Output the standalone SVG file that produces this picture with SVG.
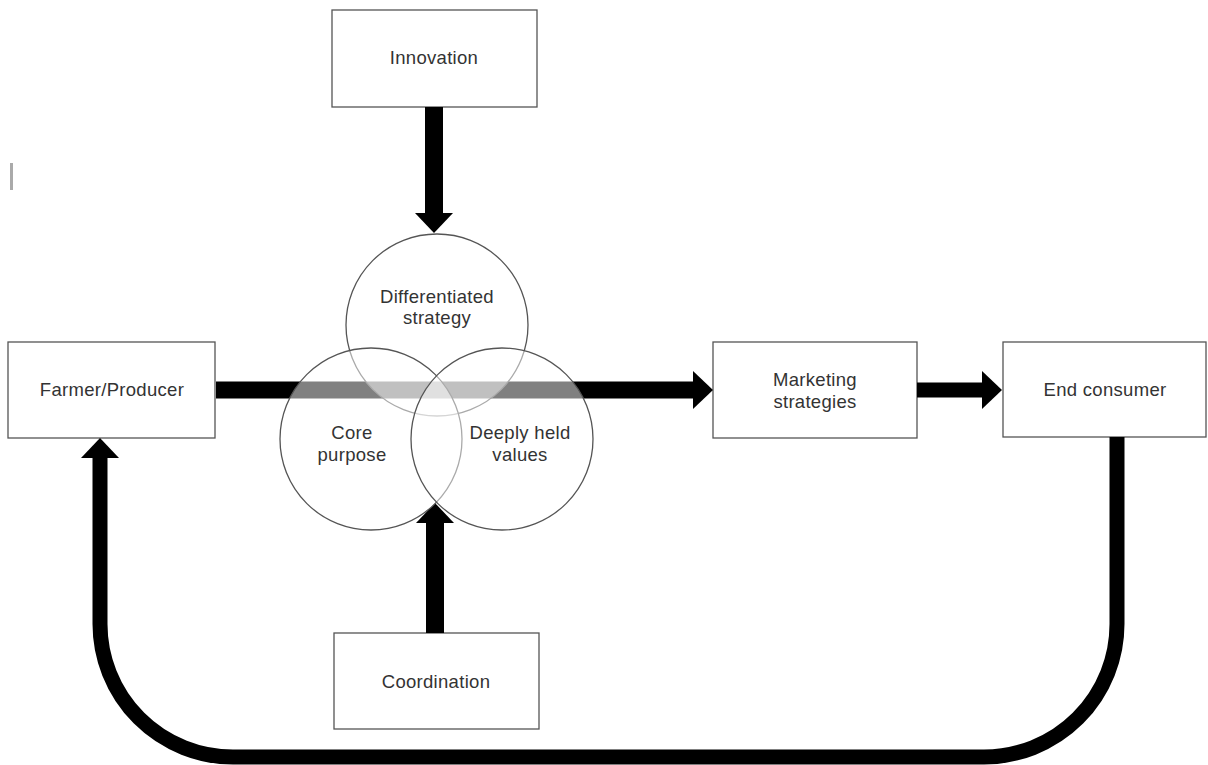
<svg xmlns="http://www.w3.org/2000/svg" width="1208" height="765" viewBox="0 0 1208 765">
<style>
.box{fill:#fff;stroke:#555;stroke-width:1.3}
.circ{fill:#fff;fill-opacity:0.5;stroke:#555;stroke-width:1.3}
.lbl{font-family:"Liberation Sans",Arial,sans-serif;font-size:18.5px;fill:#333;text-anchor:middle;letter-spacing:0.3px}
.arr{fill:none;stroke:#000;stroke-linecap:butt}
</style>
<defs>
<marker id="ah" viewBox="0 0 20 38" refX="0" refY="19" markerWidth="20" markerHeight="38" markerUnits="userSpaceOnUse" orient="auto">
<path d="M0,0 L20,19 L0,38 Z" fill="#000"/>
</marker>
</defs>
<rect x="0" y="0" width="1208" height="765" fill="#fff"/>
<rect x="10" y="163" width="3" height="27" fill="#aaa"/>
<g id="innovation"><rect class="box" x="332" y="10" width="205" height="97"/><text class="lbl" x="434" y="64">Innovation</text></g>
<g id="farmer"><rect class="box" x="8" y="342" width="207" height="96"/><text class="lbl" x="112" y="396">Farmer/Producer</text></g>
<g id="marketing"><rect class="box" x="713" y="342" width="204" height="96"/><text class="lbl" x="815" y="386">Marketing</text><text class="lbl" x="815" y="408">strategies</text></g>
<g id="consumer"><rect class="box" x="1003" y="342" width="203" height="95"/><text class="lbl" x="1105" y="396">End consumer</text></g>
<g id="coordination"><rect class="box" x="334" y="633" width="205" height="96"/><text class="lbl" x="436" y="688">Coordination</text></g>
<g id="connectors">
<line class="arr" x1="216" y1="390" x2="693" y2="390" stroke-width="17" marker-end="url(#ah)"/>
<line class="arr" x1="917" y1="390" x2="982" y2="390" stroke-width="15" marker-end="url(#ah)"/>
<line class="arr" x1="434" y1="107" x2="434" y2="213" stroke-width="18" marker-end="url(#ah)"/>
<line class="arr" x1="435" y1="633" x2="435" y2="523" stroke-width="18" marker-end="url(#ah)"/>
<path class="arr" d="M1117,437 V624 A133,133 0 0 1 984,757 H233 A133,133 0 0 1 100,624 V458" stroke-width="15" marker-end="url(#ah)"/>
</g>
<g id="differentiated"><circle class="circ" cx="437" cy="325" r="91"/><text class="lbl" x="437" y="303">Differentiated</text><text class="lbl" x="437" y="324">strategy</text></g>
<g id="core"><circle class="circ" cx="371" cy="439" r="91"/><text class="lbl" x="352" y="439">Core</text><text class="lbl" x="352" y="461">purpose</text></g>
<g id="values"><circle class="circ" cx="502" cy="439" r="91"/><text class="lbl" x="520" y="439">Deeply held</text><text class="lbl" x="520" y="461">values</text></g>
</svg>
